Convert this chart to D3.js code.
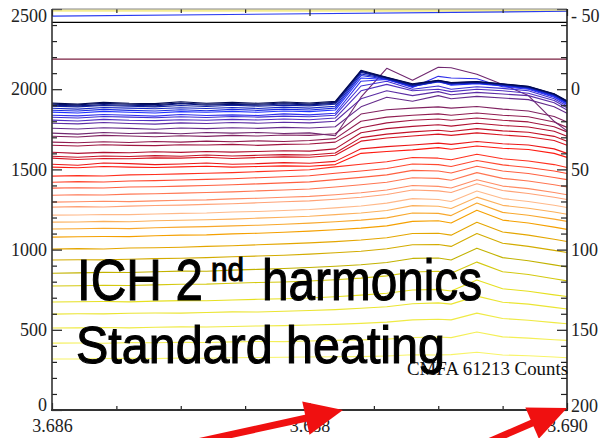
<!DOCTYPE html>
<html>
<head>
<meta charset="utf-8">
<script src="https://cdn.jsdelivr.net/npm/d3@7"></script>
<style>
html, body { margin: 0; padding: 0; background: #fff; }
svg { display: block; }
</style>
</head>
<body>
<div id="chart"></div>
<script>
// wavelength channels as on the axis
var wavelength = [3.6860, 3.6862, 3.6864, 3.6866, 3.6868, 3.6870, 3.6872, 3.6874, 3.6876, 3.6878, 3.6880,
                  3.6882, 3.6884, 3.6886, 3.6888, 3.6890, 3.6891, 3.6893, 3.6895, 3.6897, 3.6899, 3.6900];

// counts, bottom spectrum first
var yellowSpectra = [
  [318, 318, 321, 322, 320, 324, 323, 326, 327, 329, 330, 332, 333, 337, 344, 343, 345, 360, 343, 338, 330, 326],
  [417, 418, 416, 420, 419, 422, 421, 425, 427, 426, 430, 434, 437, 442, 452, 455, 451, 486, 456, 448, 438, 434],
  [511, 512, 514, 512, 516, 518, 517, 521, 524, 526, 530, 534, 540, 548, 562, 566, 562, 604, 570, 560, 545, 538],
  [598, 600, 599, 603, 605, 604, 608, 612, 611, 616, 620, 626, 634, 644, 662, 668, 660, 710, 672, 660, 640, 630],
  [673, 675, 676, 674, 679, 682, 681, 686, 690, 694, 698, 706, 716, 728, 748, 752, 742, 810, 756, 740, 718, 708],
  [773, 775, 778, 776, 780, 784, 785, 790, 795, 798, 804, 812, 822, 836, 860, 865, 852, 922, 862, 845, 818, 805],
  [853, 855, 858, 857, 862, 866, 865, 872, 877, 882, 888, 896, 906, 920, 945, 948, 935, 1009, 950, 930, 905, 892],
  [935, 937, 936, 940, 944, 946, 950, 955, 960, 965, 972, 980, 990, 1005, 1030, 1032, 1020, 1100, 1040, 1020, 995, 982],
  [1003, 1006, 1004, 1010, 1012, 1015, 1020, 1024, 1030, 1036, 1042, 1050, 1060, 1074, 1100, 1102, 1090, 1170, 1110, 1090, 1065, 1050]
];

var orangeSpectra = [
  [1078, 1080, 1082, 1081, 1086, 1090, 1092, 1098, 1102, 1108, 1115, 1124, 1134, 1148, 1176, 1180, 1166, 1246, 1184, 1166, 1140, 1126],
  [1128, 1130, 1133, 1131, 1136, 1140, 1143, 1148, 1152, 1158, 1165, 1174, 1184, 1198, 1228, 1226, 1212, 1290, 1232, 1214, 1190, 1176],
  [1171, 1172, 1176, 1174, 1180, 1183, 1186, 1190, 1196, 1202, 1208, 1218, 1228, 1244, 1274, 1270, 1256, 1327, 1276, 1258, 1234, 1220],
  [1215, 1216, 1219, 1218, 1222, 1226, 1228, 1234, 1238, 1244, 1250, 1260, 1272, 1290, 1318, 1312, 1300, 1365, 1318, 1300, 1276, 1262],
  [1265, 1268, 1266, 1271, 1275, 1277, 1282, 1286, 1292, 1298, 1304, 1314, 1326, 1344, 1372, 1366, 1356, 1410, 1368, 1350, 1326, 1312],
  [1296, 1298, 1301, 1299, 1304, 1308, 1310, 1316, 1320, 1326, 1332, 1342, 1354, 1372, 1400, 1394, 1384, 1436, 1396, 1380, 1356, 1342],
  [1339, 1342, 1340, 1346, 1348, 1352, 1356, 1360, 1366, 1372, 1378, 1390, 1404, 1420, 1448, 1444, 1432, 1480, 1444, 1428, 1404, 1390],
  [1383, 1386, 1384, 1390, 1392, 1396, 1400, 1404, 1410, 1416, 1422, 1436, 1450, 1466, 1494, 1490, 1478, 1520, 1490, 1474, 1450, 1436],
  [1420, 1424, 1421, 1428, 1430, 1434, 1438, 1442, 1448, 1454, 1460, 1476, 1490, 1506, 1534, 1530, 1518, 1556, 1528, 1512, 1490, 1474],
  [1458, 1461, 1459, 1466, 1468, 1472, 1476, 1480, 1486, 1492, 1498, 1516, 1532, 1548, 1574, 1570, 1560, 1594, 1566, 1552, 1530, 1512]
];

var redSpectra = [
  [1514, 1510, 1518, 1514, 1512, 1516, 1520, 1514, 1518, 1522, 1520, 1530, 1600, 1612, 1622, 1636, 1626, 1646, 1632, 1624, 1600, 1575],
  [1532, 1526, 1540, 1536, 1530, 1534, 1540, 1532, 1536, 1542, 1538, 1550, 1628, 1642, 1652, 1664, 1656, 1674, 1660, 1652, 1628, 1600],
  [1570, 1562, 1568, 1566, 1572, 1570, 1576, 1568, 1574, 1578, 1576, 1588, 1676, 1696, 1708, 1720, 1712, 1728, 1714, 1704, 1680, 1650],
  [1582, 1576, 1584, 1580, 1586, 1582, 1590, 1584, 1588, 1592, 1590, 1602, 1698, 1720, 1734, 1744, 1736, 1754, 1740, 1732, 1706, 1676],
  [1607, 1600, 1606, 1604, 1610, 1606, 1612, 1608, 1612, 1616, 1614, 1628, 1728, 1754, 1768, 1778, 1770, 1788, 1774, 1764, 1738, 1706],
  [1651, 1646, 1654, 1650, 1648, 1654, 1652, 1656, 1650, 1656, 1658, 1670, 1760, 1790, 1806, 1814, 1806, 1820, 1806, 1796, 1766, 1734],
  [1670, 1666, 1672, 1668, 1674, 1670, 1676, 1672, 1678, 1674, 1680, 1692, 1800, 1826, 1838, 1846, 1838, 1852, 1838, 1828, 1796, 1762],
  [1707, 1702, 1712, 1708, 1704, 1710, 1706, 1712, 1708, 1714, 1712, 1722, 1845, 1872, 1882, 1890, 1882, 1892, 1876, 1864, 1830, 1795],
  [1726, 1720, 1730, 1724, 1728, 1722, 1730, 1726, 1730, 1724, 1728, 1710, 1950, 2130, 2056, 2137, 2134, 2093, 2030, 1960, 1800, 1740]
];

var blueSpectra = [
  [1757, 1752, 1760, 1756, 1750, 1758, 1754, 1760, 1756, 1762, 1758, 1766, 1890, 1950, 1925, 1960, 1940, 1955, 1945, 1935, 1890, 1850],
  [1788, 1784, 1792, 1786, 1782, 1790, 1786, 1792, 1788, 1794, 1790, 1800, 1940, 1990, 1960, 1985, 1965, 1980, 1970, 1960, 1915, 1870],
  [1807, 1802, 1812, 1806, 1804, 1810, 1806, 1812, 1808, 1814, 1810, 1820, 1990, 2030, 1990, 2000, 1985, 2000, 1990, 1975, 1930, 1885],
  [1825, 1820, 1830, 1826, 1822, 1828, 1824, 1830, 1826, 1832, 1828, 1838, 2020, 2050, 2000, 2020, 2000, 2015, 2005, 1990, 1940, 1895],
  [1838, 1834, 1842, 1838, 1832, 1842, 1836, 1840, 1836, 1846, 1840, 1850, 2050, 2060, 2010, 2080, 2070, 2065, 2015, 2000, 1950, 1905],
  [1857, 1852, 1862, 1856, 1852, 1860, 1856, 1862, 1856, 1864, 1860, 1870, 2070, 2060, 2015, 2050, 2025, 2035, 2020, 2005, 1955, 1910],
  [1869, 1864, 1874, 1868, 1864, 1872, 1866, 1874, 1868, 1876, 1870, 1882, 2085, 2062, 2018, 2045, 2030, 2038, 2024, 2008, 1960, 1915],
  [1881, 1876, 1886, 1882, 1878, 1884, 1880, 1886, 1880, 1888, 1882, 1894, 2095, 2066, 2020, 2048, 2034, 2040, 2026, 2010, 1962, 1918],
  [1894, 1890, 1898, 1894, 1890, 1898, 1892, 1900, 1894, 1900, 1896, 1906, 2105, 2068, 2024, 2050, 2036, 2042, 2028, 2012, 1965, 1920],
  [1900, 1896, 1904, 1900, 1896, 1910, 1900, 1906, 1900, 1908, 1902, 1912, 2110, 2070, 2026, 2052, 2038, 2044, 2030, 2014, 1968, 1922],
  [1906, 1902, 1912, 1906, 1904, 1914, 1906, 1910, 1906, 1914, 1908, 1918, 2114, 2072, 2030, 2054, 2040, 2046, 2032, 2016, 1970, 1925],
  [1913, 1908, 1918, 1912, 1910, 1922, 1912, 1918, 1912, 1920, 1914, 1924, 2118, 2075, 2034, 2056, 2042, 2048, 2034, 2018, 1972, 1928]
];

// flat reference traces near the top (left end, right end)
var refLeft  = [2490, 2455, 2417, 2187];
var refRight = [2490, 2486, 2417, 2187];
var refColors = ["#f4ec90", "#2a3cf0", "#000000", "#7a2040"];

var leftMajor = [0, 500, 1000, 1500, 2000, 2500];
var rightMajor = [-50, 0, 50, 100, 150, 200];
var bottomMajor = [3.686, 3.688, 3.690];

var W = 605, H = 438;
var svg = d3.select("#chart").append("svg").attr("width", W).attr("height", H);

var x = d3.scaleLinear().domain([3.686, 3.690]).range([52, 567]);
var y = d3.scaleLinear().domain([0, 2500]).range([410, 9]);
var y2 = d3.scaleLinear().domain([200, -50]).range([410, 9]);

var spectra = yellowSpectra.concat(orangeSpectra, redSpectra, blueSpectra);

// colour table: yellow at the bottom through orange, red, purple to dark blue
var color = d3.scaleLinear()
  .domain([0, 4, 6, 9, 12, 16, 19, 23, 27, 30, 33, 36, 39])
  .range(["#f8f468", "#e6e020", "#c2b200", "#f5a000", "#ffb888", "#ff6040", "#ff1a10",
          "#b01030", "#702870", "#5030c0", "#2030ff", "#1020a0", "#000850"]);

var line = d3.line()
  .x(function(d, i) { return x(wavelength[i]); })
  .y(function(d) { return y(d); });

var g = svg.append("g");

g.selectAll("path.ref")
  .data(refLeft)
  .enter().append("path")
  .attr("class", "ref")
  .attr("d", function(d, i) {
    return "M" + x(wavelength[0]) + "," + y(d) + "L" + x(wavelength[wavelength.length - 1]) + "," + y(refRight[i]);
  })
  .attr("fill", "none")
  .attr("stroke", function(d, i) { return refColors[i]; })
  .attr("stroke-width", function(d, i) { return i == 0 ? 2.5 : 1.2; });

g.selectAll("path.spec")
  .data(spectra)
  .enter().append("path")
  .attr("class", "spec")
  .attr("d", line)
  .attr("fill", "none")
  .attr("stroke", function(d, i) { return color(i); })
  .attr("stroke-width", 1.1)
  .attr("stroke-linejoin", "round");

// axes, IDL style: ticks inside the frame
var tickFont = "'Liberation Serif', 'Times New Roman', serif";

function minors(start, stop, step, majors) {
  return d3.range(start, stop + step / 2, step).filter(function(v) {
    return !majors.some(function(m) { return Math.abs(m - v) < step / 10; });
  });
}

function styleAxis(sel) {
  sel.select(".domain").remove();
  sel.selectAll("line").attr("stroke", "#222").attr("stroke-width", 1.2);
  sel.selectAll("text").attr("font-family", tickFont).attr("font-size", 18).attr("fill", "#222");
}

// left
svg.append("g").attr("transform", "translate(52,0)")
  .call(d3.axisLeft(y).tickValues(leftMajor).tickSize(-10).tickPadding(5).tickFormat(d3.format("d")))
  .call(styleAxis)
  .selectAll(".tick text")
  .attr("y", function(d) { return d == 0 ? -5 : (d == 2500 ? 7 : 0); });
svg.append("g").attr("transform", "translate(52,0)")
  .call(d3.axisLeft(y).tickValues(minors(0, 2500, 100, leftMajor)).tickSize(-5).tickFormat(""))
  .call(styleAxis);

// right
svg.append("g").attr("transform", "translate(567,0)")
  .call(d3.axisRight(y2).tickValues(rightMajor).tickSize(-10).tickPadding(4)
    .tickFormat(function(d) { return d < 0 ? "- " + Math.abs(d) : d; }))
  .call(styleAxis)
  .selectAll(".tick text")
  .attr("y", function(d) { return d == 200 ? -4 : (d == -50 ? 7 : 0); });
svg.append("g").attr("transform", "translate(567,0)")
  .call(d3.axisRight(y2).tickValues(minors(-50, 200, 10, rightMajor)).tickSize(-6).tickFormat(""))
  .call(styleAxis);

// bottom
var bottomMinor = minors(3.686, 3.690, 0.0005, bottomMajor);
svg.append("g").attr("transform", "translate(0,410)")
  .call(d3.axisBottom(x).tickValues(bottomMajor).tickSize(-7).tickPadding(9).tickFormat(d3.format(".3f")))
  .call(styleAxis);
svg.append("g").attr("transform", "translate(0,410)")
  .call(d3.axisBottom(x).tickValues(bottomMinor).tickSize(-4).tickFormat(""))
  .call(styleAxis);

// top
svg.append("g").attr("transform", "translate(0,9)")
  .call(d3.axisTop(x).tickValues(bottomMajor).tickSize(-7).tickFormat(""))
  .call(styleAxis);
svg.append("g").attr("transform", "translate(0,9)")
  .call(d3.axisTop(x).tickValues(bottomMinor).tickSize(-4).tickFormat(""))
  .call(styleAxis);

// frame
svg.append("line").attr("x1", 52).attr("x2", 567).attr("y1", 9).attr("y2", 9)
  .attr("stroke", "#888").attr("stroke-width", 1.2);
svg.append("line").attr("x1", 52).attr("x2", 52).attr("y1", 9).attr("y2", 411)
  .attr("stroke", "#333").attr("stroke-width", 1.6);
svg.append("line").attr("x1", 567).attr("x2", 567).attr("y1", 9).attr("y2", 411)
  .attr("stroke", "#222").attr("stroke-width", 1.6);
svg.append("line").attr("x1", 51).attr("x2", 568).attr("y1", 410).attr("y2", 410)
  .attr("stroke", "#333").attr("stroke-width", 2);

// annotations
svg.append("text")
  .attr("x", 407).attr("y", 375)
  .attr("font-family", tickFont).attr("font-size", 18.5).attr("fill", "#111")
  .attr("textLength", 161).attr("lengthAdjust", "spacingAndGlyphs")
  .text("CMFA 61213 Counts");

var bigFont = "'Liberation Sans', Arial, Helvetica, sans-serif";
function bigText(tx, ty, size, len, str) {
  svg.append("text")
    .attr("x", tx).attr("y", ty)
    .attr("font-family", bigFont).attr("font-size", size)
    .attr("fill", "#000").attr("stroke", "#000").attr("stroke-width", 1.1)
    .attr("textLength", len).attr("lengthAdjust", "spacingAndGlyphs")
    .text(str);
}
bigText(77, 300, 58, 126, "ICH 2");
bigText(211, 281, 33, 33, "nd");
bigText(262, 300, 58, 220, "harmonics");
bigText(76, 363, 52, 369, "Standard heating");

// red arrows, given in data coordinates (tail, tip)
var arrowTails = [[3.68713, -199], [3.68939, -199]];
var arrowTips = [[3.68826, 0], [3.69000, 12]];

arrowTails.forEach(function(t, i) {
  var x0 = x(t[0]), y0 = y(t[1]);
  var x1 = x(arrowTips[i][0]), y1 = y(arrowTips[i][1]);
  var dx = x1 - x0, dy = y1 - y0, len = Math.sqrt(dx * dx + dy * dy);
  var ux = dx / len, uy = dy / len;
  var headL = 38, headW = 17;
  var bx = x1 - ux * headL, by = y1 - uy * headL;
  svg.append("line")
    .attr("x1", x0).attr("y1", y0).attr("x2", bx + ux * 2).attr("y2", by + uy * 2)
    .attr("stroke", "#f01010").attr("stroke-width", 7);
  svg.append("path")
    .attr("d", "M" + x1 + "," + y1 +
               "L" + (bx - uy * headW) + "," + (by + ux * headW) +
               "L" + (bx + uy * headW) + "," + (by - ux * headW) + "Z")
    .attr("fill", "#f01010");
});
</script>
</body>
</html>
